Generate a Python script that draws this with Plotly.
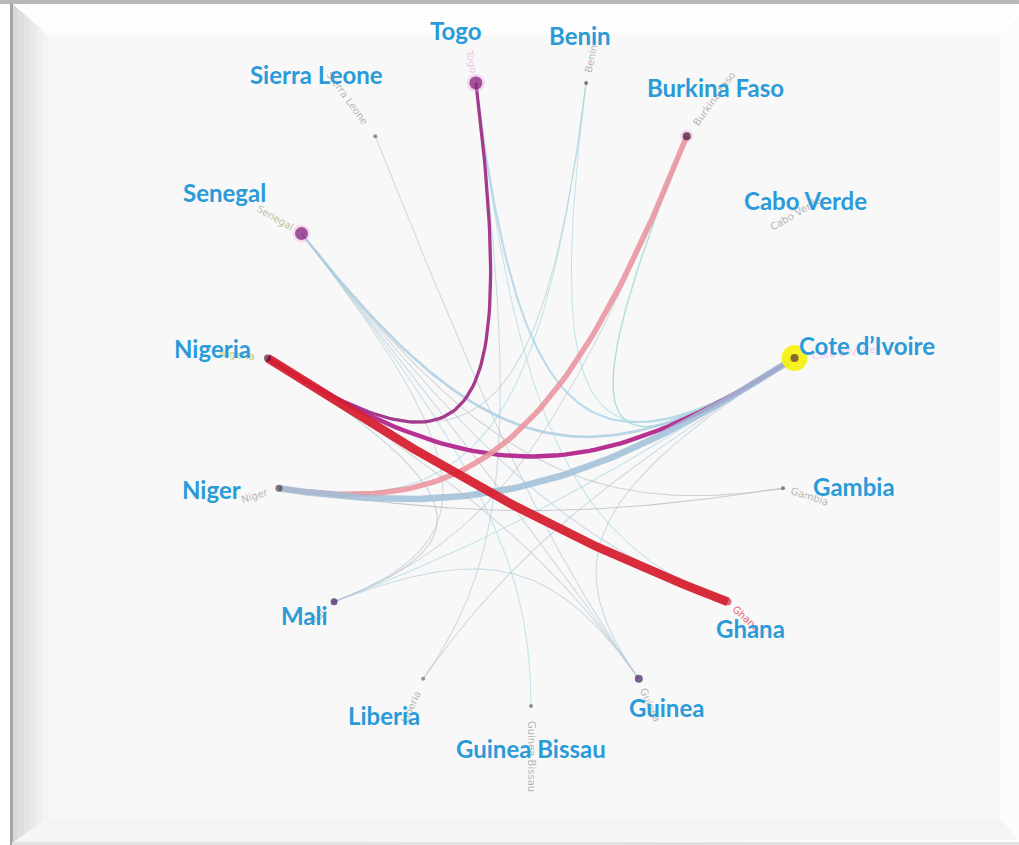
import numpy as np
import plotly.graph_objects as go

# ---------------- data ----------------
countries = ["Benin", "Burkina Faso", "Cabo Verde", "Cote d’Ivoire", "Gambia", "Ghana",
             "Guinea", "Guinea Bissau", "Liberia", "Mali", "Niger", "Nigeria",
             "Senegal", "Sierra Leone", "Togo"]

edge_source = ["Sierra Leone", "Benin", "Benin", "Burkina Faso", "Burkina Faso", "Cote d’Ivoire",
               "Cote d’Ivoire", "Cote d’Ivoire", "Gambia", "Guinea", "Guinea", "Guinea Bissau",
               "Liberia", "Mali", "Ghana", "Ghana", "Guinea", "Cote d’Ivoire", "Gambia", "Mali",
               "Senegal", "Togo", "Cote d’Ivoire", "Burkina Faso", "Togo", "Nigeria", "Nigeria"]
edge_target = ["Guinea", "Nigeria", "Niger", "Cote d’Ivoire", "Mali", "Mali",
               "Guinea", "Liberia", "Senegal", "Mali", "Senegal", "Senegal",
               "Togo", "Senegal", "Togo", "Senegal", "Nigeria", "Benin", "Niger", "Nigeria",
               "Cote d’Ivoire", "Cote d’Ivoire", "Niger", "Niger", "Nigeria", "Cote d’Ivoire", "Ghana"]
edge_weight = [1, 1, 1, 1.2, 1, 1,
               1, 1, 1, 1, 1, 1,
               1, 1, 1, 1, 1, 1, 1, 1.2,
               2.5, 2, 6, 5, 3, 4, 8]

# ---------------- styles ----------------
EDGE_COLOR = {
    ("Nigeria", "Ghana"): "rgba(214,32,48,0.95)",
    ("Nigeria", "Cote d’Ivoire"): "rgba(178,38,140,0.95)",
    ("Togo", "Nigeria"): "rgba(160,48,135,0.95)",
    ("Burkina Faso", "Niger"): "rgba(234,150,160,0.9)",
    ("Cote d’Ivoire", "Niger"): "rgba(160,190,215,0.85)",
    ("Senegal", "Cote d’Ivoire"): "rgba(170,205,225,0.8)",
    ("Togo", "Cote d’Ivoire"): "rgba(170,210,228,0.75)",
    ("Burkina Faso", "Cote d’Ivoire"): "rgba(140,210,205,0.7)",
    ("Gambia", "Niger"): "rgba(190,190,190,0.8)",
    ("Gambia", "Senegal"): "rgba(195,195,195,0.7)",
}
THIN_COLORS = ["rgba(180,205,220,0.65)", "rgba(190,200,210,0.65)", "rgba(160,215,225,0.6)"]

NODE_STYLE = {  # size, colour
    "Benin": (4, "#4a4a55"), "Burkina Faso": (8, "#3c1238"), "Cabo Verde": (0, "#888"),
    "Cote d’Ivoire": (8, "#5a2a3a"), "Gambia": (4, "#555"), "Ghana": (7, "#c83040"),
    "Guinea": (8, "#45205e"), "Guinea Bissau": (4, "#666"), "Liberia": (4, "#666"),
    "Mali": (7, "#3a1a5a"), "Niger": (7, "#4a4048"), "Nigeria": (7, "#5a1a40"),
    "Senegal": (13, "#7a1a78"), "Sierra Leone": (4, "#666"), "Togo": (13, "#7a1a70"),
}
HALO = {"Cote d’Ivoire": (26, "rgba(245,240,20,0.95)"), "Togo": (18, "rgba(240,150,220,0.35)"),
        "Senegal": (18, "rgba(240,150,220,0.3)"), "Burkina Faso": (13, "rgba(240,150,200,0.3)")}

LABEL_SHIFT = {  # pixel offsets of the blue labels from their node
    "Togo": (-20, -52), "Benin": (-6, -47), "Burkina Faso": (29, -49), "Cabo Verde": (45, -33),
    "Cote d’Ivoire": (72, -13), "Gambia": (71, -2), "Ghana": (23, 27), "Guinea": (28, 29),
    "Guinea Bissau": (0, 42), "Liberia": (-39, 37), "Mali": (-30, 14), "Niger": (-67, 1),
    "Nigeria": (-55, -10), "Senegal": (-77, -41), "Sierra Leone": (-59, -62),
}
SMALL_LABEL_COLOR = {"Nigeria": "rgba(140,185,80,0.7)", "Cote d’Ivoire": "rgba(235,160,225,0.6)",
                     "Togo": "rgba(235,160,215,0.6)", "Ghana": "rgba(215,50,70,0.75)",
                     "Senegal": "rgba(150,150,90,0.6)"}

W, H = 1019, 845
CX, CY, RX, RY = 531, 391, 265, 315      # pixel geometry of the ring
START_ANGLE, STEP = 78, 24
FOCUS = np.array([0.0, -0.43])           # focal point of the edge curves (data units)
PULL = 0.78

# ---------------- layout of nodes ----------------
ang = np.deg2rad(START_ANGLE - STEP * np.arange(len(countries)))
pos = {c: np.array([np.cos(a), np.sin(a)]) for c, a in zip(countries, ang)}
angle_deg = {c: START_ANGLE - STEP * i for i, c in enumerate(countries)}

fig = go.Figure()

# ---------------- edges ----------------
t = np.linspace(0, 1, 80)[:, None]
order = np.argsort(edge_weight, kind="stable")
for k in order:
    s, d, w = edge_source[k], edge_target[k], edge_weight[k]
    A, B = pos[s], pos[d]
    C1 = A + PULL * (FOCUS - A)
    C2 = B + PULL * (FOCUS - B)
    P = (1 - t) ** 3 * A + 3 * (1 - t) ** 2 * t * C1 + 3 * (1 - t) * t ** 2 * C2 + t ** 3 * B
    col = EDGE_COLOR.get((s, d), THIN_COLORS[k % len(THIN_COLORS)])
    fig.add_trace(go.Scatter(x=P[:, 0], y=P[:, 1], mode="lines",
                             line=dict(color=col, width=1.1 * w), hoverinfo="skip",
                             showlegend=False))

# ---------------- nodes ----------------
for c, (sz, colr) in HALO.items():
    fig.add_trace(go.Scatter(x=[pos[c][0]], y=[pos[c][1]], mode="markers",
                             marker=dict(size=sz, color=colr, line=dict(width=0)),
                             hoverinfo="skip", showlegend=False))
fig.add_trace(go.Scatter(
    x=[pos[c][0] for c in countries], y=[pos[c][1] for c in countries], mode="markers",
    marker=dict(size=[NODE_STYLE[c][0] for c in countries],
                color=[NODE_STYLE[c][1] for c in countries], line=dict(width=0)),
    text=countries, hoverinfo="text", showlegend=False))

# ---------------- small radial labels ----------------
for c in countries:
    a = angle_deg[c]
    L = len(c) * 6.3
    r = 9 + L / 2
    dx, dy = r * np.cos(np.deg2rad(a)), r * np.sin(np.deg2rad(a))
    ta = -a if np.cos(np.deg2rad(a)) >= -1e-6 else 180 - a
    fig.add_annotation(x=pos[c][0], y=pos[c][1], text=c, showarrow=False,
                       xshift=dx, yshift=dy, textangle=ta,
                       font=dict(family="DejaVu Sans", size=10,
                                 color=SMALL_LABEL_COLOR.get(c, "rgba(110,110,110,0.5)")))

# ---------------- blue labels ----------------
for c in countries:
    dx, dy = LABEL_SHIFT[c]
    fig.add_annotation(x=pos[c][0], y=pos[c][1], text=f"<b>{c}</b>", showarrow=False,
                       xshift=dx, yshift=-dy,
                       font=dict(family="Lato", size=24, color="#2b9bd8"))

# ---------------- frame ----------------
def P_(x, y):
    return f"{x / W:.5f},{1 - y / H:.5f}"

def poly(pts, fill):
    path = "M " + " L ".join(P_(x, y) for x, y in pts) + " Z"
    fig.add_shape(type="path", path=path, xref="paper", yref="paper",
                  fillcolor=fill, line=dict(width=0), layer="below")

poly([(0, 0), (W, 0), (W, H), (0, H)], "#ffffff")
poly([(12, 4), (1019, 4), (1000, 35), (48, 35)], "#fdfdfd")
# soft left bevel (stepped gradient)
bevel_cols = ["#f3f3f3", "#eeeeee", "#e9e9e9", "#e4e4e4", "#dedede", "#d8d8d8"]
for i, col in enumerate(bevel_cols):
    xr = 48 - i * 6
    yt = 4 + (xr - 12) * 31 / 36
    yb = 843 - (xr - 12) * 25 / 36
    poly([(12, 4), (xr, yt), (xr, yb), (12, 843)], col)
poly([(48, 818), (1000, 818), (1019, 840), (12, 843)], "#f5f5f5")
poly([(1000, 35), (1019, 15), (1019, 840), (1000, 818)], "#fcfcfc")
poly([(48, 35), (1000, 35), (1000, 818), (48, 818)], "#f8f8f8")
poly([(0, 0), (W, 0), (W, 4), (0, 4)], "#b8b8b8")
poly([(10, 4), (13, 4), (13, 845), (10, 845)], "#a6a6a6")
poly([(12, 842), (W, 842), (W, 845), (12, 845)], "#e2e2e2")

fig.update_layout(
    width=W, height=H, margin=dict(l=0, r=0, t=0, b=0),
    paper_bgcolor="white", plot_bgcolor="rgba(0,0,0,0)",
    xaxis=dict(range=[-CX / RX, (W - CX) / RX], visible=False, fixedrange=True),
    yaxis=dict(range=[(CY - H) / RY, CY / RY], visible=False, fixedrange=True),
    showlegend=False,
)
fig.write_html("out.html", config={"displayModeBar": False},
               post_script="document.body.style.margin='0';document.body.style.overflow='hidden';")
